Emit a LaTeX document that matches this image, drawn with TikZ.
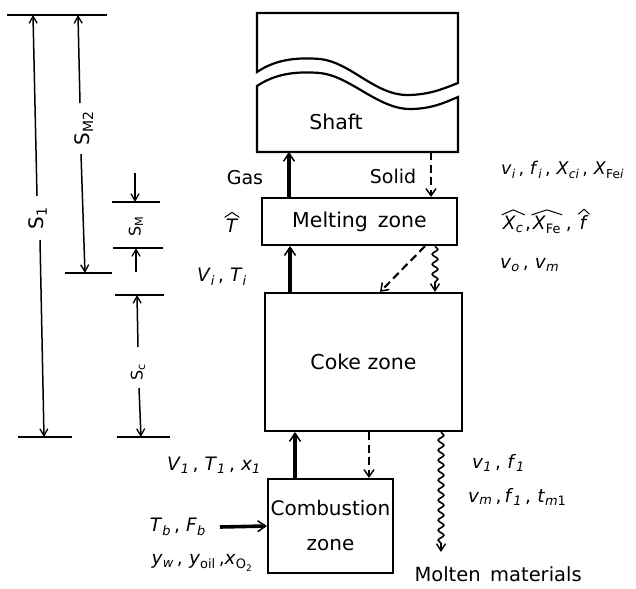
\documentclass[tikz,border=0pt]{standalone}
\usepackage{fontspec}
\setmainfont{DejaVu Sans}
\usetikzlibrary{arrows.meta,decorations.pathmorphing,calc}
\newcommand{\vr}[2]{\textit{#1}\textsubscript{\textit{#2}}}
\newcommand{\cm}{\,,\,\,}
\newcommand{\hatv}[1]{\tikz[baseline=(hh.base),x=1pt,y=1pt]{\node[inner sep=0pt] (hh) {#1};
  \draw[line width=1pt] ([xshift=-1pt,yshift=1pt]hh.north west) -- ([yshift=6pt]hh.north) -- ([xshift=1pt,yshift=1pt]hh.north east);}}
\begin{document}
\begin{tikzpicture}[x=1pt,y=-1pt,
  box/.style={draw,line width=2.2pt,inner sep=0pt},
  lbl/.style={font=\fontsize{20.5}{36}\selectfont},
  var/.style={font=\fontsize{18.5}{22}\selectfont,inner sep=0pt},
  dimlbl/.style={font=\fontsize{20}{24}\selectfont,rotate=90,inner sep=0pt},
  dim/.style={line width=1.5pt},
  dimarr/.style={line width=1.5pt,-{Straight Barb[length=7pt,width=8pt,line width=1.3pt]}},
  thickarr/.style={line width=3.6pt,-{Straight Barb[length=8pt,width=11pt,line width=1.5pt]}},
  dasharr/.style={line width=2.1pt,dash pattern=on 8pt off 4.5pt,-{Straight Barb[length=7pt,width=10pt,line width=1.5pt]}},
  wavyarr/.style={line width=1.6pt,-{Straight Barb[length=7pt,width=9pt,line width=1.4pt]},decorate,decoration={snake,amplitude=2.8pt,segment length=10pt,post length=8pt}}
]
\useasboundingbox (0,0) rectangle (636,588);

% dimension lines
\draw[dim] (7,15) -- (107,15);
\draw[dim] (18,437) -- (72,437);
\draw[dim] (65,273) -- (112,273);
\draw[dim] (112,202) -- (160,202);
\draw[dim] (113,248) -- (163,248);
\draw[dim] (115,295) -- (164,295);
\draw[dim] (117,437) -- (170,437);
\node[dimlbl] (s1) at (38,218) {S\textsubscript{1}};
\node[dimlbl] (sm2) at (84,128) {S\textsubscript{M2}};
\node[dimlbl,font=\fontsize{16}{18}\selectfont] (sm) at (136,226) {S\textsubscript{M}};
\node[dimlbl,font=\fontsize{16}{18}\selectfont] (sc) at (138,372) {S\textsubscript{c}};
\draw[dimarr] (37,196) -- (33,15);
\draw[dimarr] (40,240) -- (44,437);
\draw[dimarr] (80,103) -- (78,15);
\draw[dimarr] (81,154) -- (85,273);
\draw[dimarr] (135,173) -- (135,202);
\draw[dimarr] (136,272) -- (136,248);
\draw[dimarr] (138,347) -- (137,295);
\draw[dimarr] (139,388) -- (141,437);

% shaft
\draw[line width=2.2pt] (257,72) -- (257,13) -- (458,13) -- (458,83)
  .. controls (445,88) and (430,95) .. (407,95)
  .. controls (375,95) and (350,62) .. (320,59)
  .. controls (295,57) and (275,60) .. (257,72) -- cycle;
\draw[line width=2.2pt] (257,86) .. controls (275,74) and (295,71) .. (320,73)
  .. controls (350,76) and (378,109) .. (410,109)
  .. controls (432,109) and (446,102) .. (458,97) -- (458,152) -- (257,152) -- cycle;
\coordinate (shaftbot) at (357,152);
\node[lbl] (shaft) at (336,122) {Shaft};

% boxes
\node[box,minimum width=195pt,minimum height=47pt,lbl] (melt) at (359.5,221.5) {Melting\, zone};
\node[box,minimum width=197pt,minimum height=138pt,lbl] (coke) at (363.5,362) {Coke zone};
\node[box,minimum width=125pt,minimum height=94pt,lbl,align=center,font=\fontsize{20}{35}\selectfont] (comb) at (330.5,526) {Combustion\\zone};

% x positions
\coordinate (gx) at (289,0);
\coordinate (sx) at (431,0);
\coordinate (vx) at (290,0);
\coordinate (wx) at (435,0);
\coordinate (v1x) at (295,0);
\coordinate (dx) at (369,0);
\coordinate (mx) at (441,0);
\coordinate (tb) at (220,527);
\coordinate (dd1) at (425,0);
\coordinate (dd2) at (380,0);
\coordinate (molt) at (441,552);

% connectors
\draw[thickarr] (melt.north -| gx) -- (shaftbot -| gx);
\draw[dasharr] (shaftbot -| sx) -- (melt.north -| sx);
\draw[thickarr] (coke.north -| vx) -- (melt.south -| vx);
\draw[dasharr] (melt.south -| dd1) -- (coke.north -| dd2);
\draw[wavyarr] (melt.south -| wx) -- (coke.north -| wx);
\draw[thickarr] (comb.north -| v1x) -- (coke.south -| v1x);
\draw[dasharr] (coke.south -| dx) -- (comb.north -| dx);
\draw[wavyarr] (coke.south -| mx) -- (molt);
\draw[thickarr] (tb) -- (comb.west);

% labels
\node[lbl,font=\fontsize{19}{22}\selectfont] (gas) at (245,178) {Gas};
\node[lbl,font=\fontsize{19}{22}\selectfont] (solid) at (393,176) {Solid};
\node[var] (that) at (232,222) {\hatv{\textit{T}}};
\node[var] (viti) at (222,277) {\vr{V}{i}\cm\vr{T}{i}};
\node[var,anchor=west,font=\fontsize{17.5}{22}\selectfont] (rt1) at (501,170) {\vr{v}{i}\cm\vr{f}{i}\cm\vr{X}{ci}\cm\textit{X}\textsubscript{Fe\textit{i}}};
\node[var,anchor=west] (rt2) at (501,221) {\hatv{\vr{X}{c}},\hatv{\textit{X}\textsubscript{Fe}}\cm\hatv{\textit{f}}};
\node[var,anchor=west] (rt3) at (500,265) {\vr{v}{o}\cm\vr{v}{m}};
\node[var] (v1) at (214,465) {\vr{V}{1}\cm\vr{T}{1}\cm\vr{x}{1}};
\node[var,anchor=east] (tbf) at (206,527) {\vr{T}{b}\cm\vr{F}{b}};
\node[var,anchor=east] (yw) at (253,563) {\vr{y}{w}\cm\textit{y}\textsubscript{oil}\,,\textit{x}\textsubscript{O\textsubscript{2}}};
\node[var,anchor=west] (vf1) at (472,463) {\vr{v}{1}\cm\vr{f}{1}};
\node[var,anchor=west] (vm) at (468,497) {\vr{v}{m}\,,\,\vr{f}{1}\cm\textit{t}\textsubscript{\textit{m}1}};
\node[lbl,anchor=west,font=\fontsize{19.5}{22}\selectfont] (mm) at (411,574) {Molten\, materials};
\end{tikzpicture}
\end{document}
